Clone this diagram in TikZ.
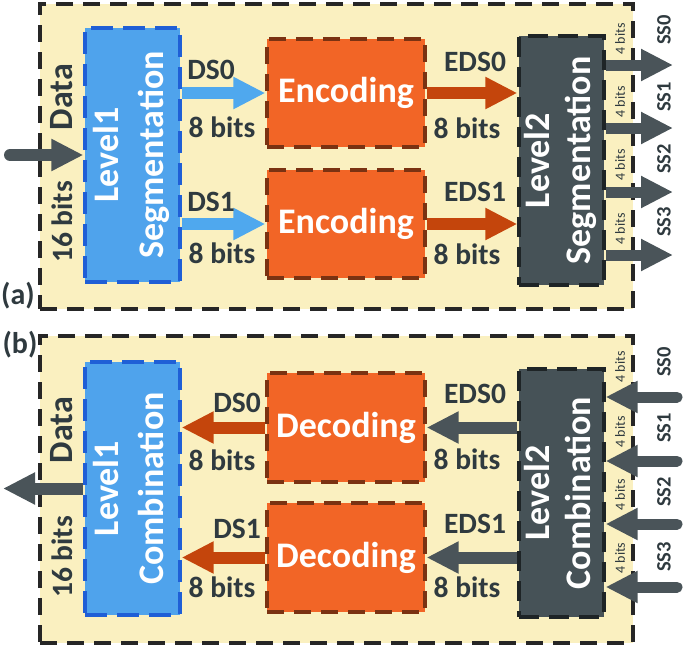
\documentclass[tikz,border=0pt]{standalone}
\usepackage{fontspec}
\setmainfont{Carlito}
\usetikzlibrary{arrows.meta}
\definecolor{panelbg}{HTML}{FAF0C0}
\definecolor{bluefill}{HTML}{4FA3EC}
\definecolor{blueedge}{HTML}{1F5FD6}
\definecolor{orangefill}{HTML}{F26526}
\definecolor{orangeedge}{HTML}{7A3212}
\definecolor{grayfill}{HTML}{465257}
\definecolor{grayedge}{HTML}{1E2426}
\definecolor{bluearr}{HTML}{4FA8EE}
\definecolor{orangearr}{HTML}{C4450C}
\definecolor{grayarr}{HTML}{4A5459}
\definecolor{txt}{HTML}{2F3A3F}
\tikzset{
  panel/.style={draw=black!85, fill=panelbg, line width=4pt, dash pattern=on 17pt off 10pt, minimum width=593pt, inner sep=0pt},
  blk/.style={line width=3.2pt, inner sep=0pt, text=white, font=\bfseries\fontsize{36}{44}\selectfont, align=center},
  blueblk/.style={blk, draw=blueedge, fill=bluefill, minimum width=95pt, dash pattern=on 22pt off 10pt},
  orangeblk/.style={blk, draw=orangeedge, fill=orangefill, minimum width=158pt, minimum height=108pt, dash pattern=on 17pt off 10pt},
  grayblk/.style={blk, draw=grayedge, fill=grayfill, minimum width=85pt, dash pattern=on 20pt off 10pt},
  fatarrow/.style={line width=12pt, -{Triangle[length=32pt,width=30pt]}},
  barr/.style={fatarrow, draw=bluearr},
  oarr/.style={fatarrow, draw=orangearr},
  garr/.style={fatarrow, draw=grayarr},
  sarr/.style={line width=11pt, draw=grayarr, -{Triangle[length=32pt,width=30pt]}},
  lbl/.style={text=txt, font=\bfseries\fontsize{29.5}{32}\selectfont, inner sep=0pt},
  biglbl/.style={text=txt, font=\bfseries\fontsize{34}{36}\selectfont, inner sep=0pt, rotate=90},
  tiny/.style={text=txt, font=\fontsize{14}{16}\selectfont, inner sep=0pt, rotate=90},
  sslbl/.style={text=txt, font=\bfseries\fontsize{20.5}{22}\selectfont, inner sep=0pt, rotate=90},
  tag/.style={text=txt, font=\bfseries\fontsize{30}{32}\selectfont, inner sep=0pt}
}
\begin{document}
\begin{tikzpicture}[x=1pt, y=-1pt]
\useasboundingbox (0,0) rectangle (685,646);
% ---------- panel (a) ----------
\node[panel, minimum height=305pt] (panelA) at (336.5,156.5) {};
\node[blueblk, minimum height=254pt] (L1S) at (132.5,155) {\rotatebox{90}{\begin{tabular}{@{}c@{}}Level1\\[1pt]Segmentation\end{tabular}}};
\node[orangeblk] (EncA) at (346,93) {Encoding};
\node[orangeblk] (EncB) at (346,224) {Encoding};
\node[grayblk, minimum height=249pt] (L2S) at (561.5,160.5) {\rotatebox{90}{\begin{tabular}{@{}c@{}}Level2\\[-3pt]Segmentation\end{tabular}}};

\coordinate (inA) at (10,155);
\draw[garr, line cap=round] (inA) -- (L1S.west);
\draw[barr] (L1S.east |- EncA.west) -- (EncA.west);
\draw[barr] (L1S.east |- EncB.west) -- (EncB.west);
\draw[oarr] (EncA.east) -- (L2S.west |- EncA.east);
\draw[oarr] (EncB.east) -- (L2S.west |- EncB.east);

\coordinate (ssa0) at (673,65);
\coordinate (ssa1) at (673,128);
\coordinate (ssa2) at (673,192);
\coordinate (ssa3) at (673,255);
\foreach \i in {0,...,3} {
  \draw[sarr] (L2S.east |- ssa\i) -- (ssa\i);
}
\node[tiny] (fa0) at (620,39) {4 bits};
\node[tiny] (fa1) at (620,102) {4 bits};
\node[tiny] (fa2) at (620,165) {4 bits};
\node[tiny] (fa3) at (620,229) {4 bits};
\node[sslbl] (sa0) at (664,30) {SS0};
\node[sslbl] (sa1) at (664,97) {SS1};
\node[sslbl] (sa2) at (664,159) {SS2};
\node[sslbl] (sa3) at (664,222) {SS3};

\node[biglbl] (dataA) at (62,97) {Data};
\node[lbl, rotate=90] (bitsA) at (62,222) {16 bits};
\node[lbl] (ds0A) at (211,70) {DS0};
\node[lbl] (b0A) at (222,127) {8 bits};
\node[lbl] (ds1A) at (211,202) {DS1};
\node[lbl] (b1A) at (222,253) {8 bits};
\node[lbl] (eds0A) at (475,62) {EDS0};
\node[lbl] (e0A) at (467,128) {8 bits};
\node[lbl] (eds1A) at (475,192) {EDS1};
\node[lbl] (e1A) at (467,254) {8 bits};
\node[tag] (tagA) at (18,296) {(a)};

% ---------- panel (b) ----------
\node[panel, minimum height=307pt] (panelB) at (336.5,489.5) {};
\node[blueblk, minimum height=253pt] (L1C) at (132.5,488.5) {\rotatebox{90}{\begin{tabular}{@{}c@{}}Level1\\[1pt]Combination\end{tabular}}};
\node[orangeblk, minimum height=109pt] (DecA) at (346,427.5) {Decoding};
\node[orangeblk, minimum height=109pt] (DecB) at (346,557.5) {Decoding};
\node[grayblk, minimum height=248pt] (L2C) at (561.5,493) {\rotatebox{90}{\begin{tabular}{@{}c@{}}Level2\\[-3pt]Combination\end{tabular}}};

\coordinate (outB) at (3,488.5);
\draw[garr] (L1C.west) -- (outB);
\draw[oarr] (DecA.west) -- (L1C.east |- DecA.west);
\draw[oarr] (DecB.west) -- (L1C.east |- DecB.west);
\draw[garr] (L2C.west |- DecA.east) -- (DecA.east);
\draw[garr] (L2C.west |- DecB.east) -- (DecB.east);

\coordinate (ssb0) at (677,397);
\coordinate (ssb1) at (677,461);
\coordinate (ssb2) at (677,524);
\coordinate (ssb3) at (677,587);
\foreach \i in {0,...,3} {
  \draw[sarr, line cap=round] (ssb\i) -- (L2C.east |- ssb\i);
}
\node[tiny] (fb0) at (620,367) {4 bits};
\node[tiny] (fb1) at (620,432) {4 bits};
\node[tiny] (fb2) at (620,495) {4 bits};
\node[tiny] (fb3) at (620,558) {4 bits};
\node[sslbl] (sb0) at (664,362) {SS0};
\node[sslbl] (sb1) at (664,428) {SS1};
\node[sslbl] (sb2) at (664,492) {SS2};
\node[sslbl] (sb3) at (664,557) {SS3};

\node[biglbl] (dataB) at (62,430) {Data};
\node[lbl, rotate=90] (bitsB) at (62,557) {16 bits};
\node[lbl] (ds0B) at (237,403) {DS0};
\node[lbl] (b0B) at (222,460) {8 bits};
\node[lbl] (ds1B) at (237,529) {DS1};
\node[lbl] (b1B) at (222,587) {8 bits};
\node[lbl] (eds0B) at (475,394) {EDS0};
\node[lbl] (e0B) at (467,459) {8 bits};
\node[lbl] (eds1B) at (475,524) {EDS1};
\node[lbl] (e1B) at (467,587) {8 bits};
\node[tag] (tagB) at (20,345) {(b)};
\end{tikzpicture}
\end{document}
